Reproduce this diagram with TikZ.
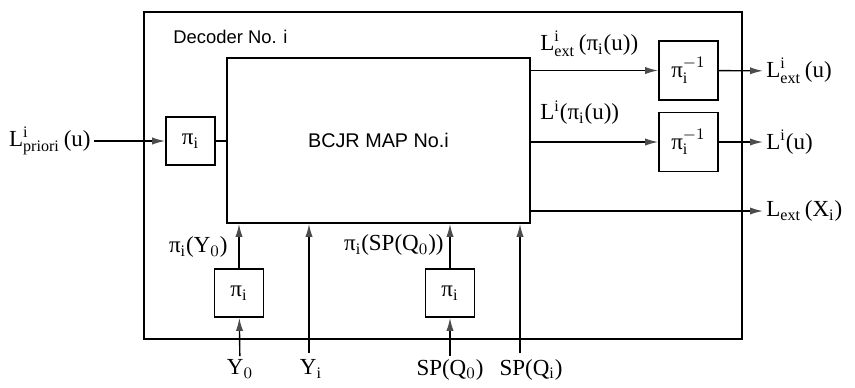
\documentclass[tikz,border=0pt]{standalone}
\usepackage{fontspec}
\setmainfont{Liberation Serif}
\newfontfamily\arialfont{Liberation Sans}
\usetikzlibrary{arrows.meta}

\newcommand{\pii}{π$_{\mathrm{i}}$}

\begin{document}
\begin{tikzpicture}[
        x=0.5pt, y=-0.5pt,
        font=\fontsize{11.5}{13}\selectfont,
        box/.style={
            rectangle, draw=black, line width=0.8pt,
            inner sep=0pt, text centered
        },
        perm/.style={box, minimum width=24.5pt, minimum height=24pt},
        invperm/.style={box, minimum width=29.5pt, minimum height=29.5pt},
        line/.style={draw, line width=0.7pt,
            -{Latex[length=6.5pt, width=3.6pt, color=black!70]}},
        wire/.style={draw, line width=0.7pt},
        lbl/.style={inner sep=1.5pt},
        sans/.style={font=\arialfont\fontsize{9.9}{11}\selectfont}
    ]

    \useasboundingbox (0,0) rectangle (855,387);

    \node [box, minimum width=299pt, minimum height=163.5pt] (decoder) at (443,175.5) {};
    \node [lbl, anchor=west, font=\arialfont\fontsize{9.2}{11}\selectfont] (declbl) at (170,37) {Decoder No. i};

    \node [box, sans, minimum width=151.5pt, minimum height=82.5pt] (map) at (378.5,140.5) {BCJR MAP No.i};

    \node [perm] (pin) at (190.5,141) {\pii};
    \node [invperm] (invext) at (688.5,70.5) {π$^{-1}_{\mathrm{i}}$};
    \node [invperm] (invall) at (688.5,142) {π$^{-1}_{\mathrm{i}}$};
    \node [perm] (piy) at (239,293) {\pii};
    \node [perm] (pisp) at (450,293) {\pii};

    \node [lbl, anchor=east] (lpri) at (94,141) {L$^{\mathrm{i}}_{\mathrm{priori}}$\,(u)};
    \node [lbl, anchor=west] (lextu) at (763,71) {L$^{\mathrm{i}}_{\mathrm{ext}}$\,(u)};
    \node [lbl, anchor=west] (lu) at (763,142) {L$^{\mathrm{i}}$(u)};
    \node [lbl, anchor=west] (lextx) at (763,211) {L$_{\mathrm{ext}}$\,(X$_{\mathrm{i}}$)};

    \node [lbl, anchor=south west] (lextpi) at (537,60) {L$^{\mathrm{i}}_{\mathrm{ext}}$\,(\pii(u))};
    \node [lbl, anchor=south west] (lpi) at (537,128) {L$^{\mathrm{i}}$(\pii(u))};

    \node [lbl, anchor=north] (y0) at (240,356) {Y$_{0}$};
    \node [lbl, anchor=north] (yi) at (311,356) {Y$_{\mathrm{i}}$};
    \node [lbl, anchor=north] (sq0) at (450,356) {SP(Q$_{0}$)};
    \node [lbl, anchor=north] (sqi) at (531,356) {SP(Q$_{\mathrm{i}}$)};
    \coordinate (yitop) at (309,353);
    \coordinate (sqitop) at (520,353);

    \node [lbl, anchor=east] (piylbl) at (231,247) {\pii(Y$_{0}$)};
    \node [lbl, anchor=east] (pisplbl) at (447,245) {\pii(SP(Q$_{0}$))};

    \draw [line] (lpri) -- (pin);
    \draw [wire] (pin) -- (pin -| map.west);

    \draw [line] (invext.west -| map.east) -- (invext);
    \draw [line] (invext) -- (lextu);
    \draw [line] (invall.west -| map.east) -- (invall);
    \draw [line] (invall) -- (lu);
    \draw [line] (lextx.west -| map.east) -- (lextx);

    \draw [line] (y0) -- (piy);
    \draw [line] (piy) -- (piy |- map.south);
    \draw [line] (yitop) -- (yitop |- map.south);
    \draw [line] (sq0) -- (pisp);
    \draw [line] (pisp) -- (pisp |- map.south);
    \draw [line] (sqitop) -- (sqitop |- map.south);

\end{tikzpicture}
\end{document}
